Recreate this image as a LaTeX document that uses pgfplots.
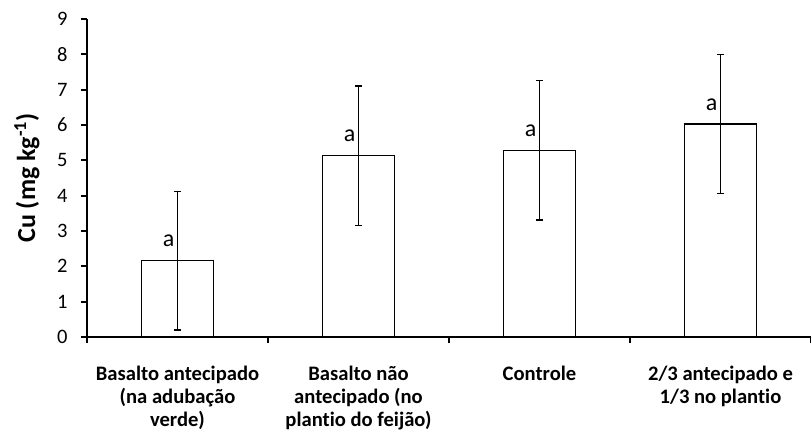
\documentclass[border=0pt]{standalone}
\usepackage{pgfplots}
\pgfplotsset{compat=1.18}
\usepackage{pgfplotstable}
\usepackage{fontspec}
\setmainfont{Carlito}[Ligatures=NoCommon]
\pgfplotstableread{
x y err
0 2.16 1.96
1 5.13 1.97
2 5.28 1.97
3 6.03 1.97
}\cudata
\begin{document}
\begin{tikzpicture}
\begin{axis}[
  name=ax,
  scale only axis, width=724pt, height=318pt,
  xmin=-0.5, xmax=3.5, ymin=0, ymax=9,
  ybar, bar width=0.4,
  axis x line=bottom, axis y line=left,
  axis line style={line width=2pt,-},
  tick align=outside,
  ytick={0,...,9},
  xtick={0,1,2,3},
  xticklabels={{Basalto antecipado\\(na adubação\\verde)},{Basalto não\\antecipado (no\\plantio do feijão)},{Controle},{2/3 antecipado e\\1/3 no plantio}},
  x tick label style={align=center, font=\fontsize{20.6}{23}\selectfont\bfseries, anchor=north, yshift=-20pt},
  y tick label style={font=\fontsize{20.5}{24}\selectfont, xshift=-10pt},
  /pgf/number format/assume math mode=true,
  major x tick style={draw=none},
  minor xtick={-0.5,0.5,1.5,2.5,3.5},
  minor x tick style={line width=2pt, black},
  major y tick style={line width=2pt, black},
  major tick length=6pt, minor tick length=6pt,
  ylabel={\bfseries Cu (mg kg\textsuperscript{-1})},
  every axis y label/.style={at={(axis description cs:-0.083,0.5)}, rotate=90, anchor=center, font=\fontsize{26}{30}\selectfont},
  nodes near coords={a},
  every node near coord/.append style={font=\fontsize{24}{28}\selectfont, anchor=south, inner sep=0pt, xshift=-9pt, yshift=13pt, black},
  clip=false,
]
\addplot[fill=white, draw=black, line width=1.3pt,
  error bars/.cd, y dir=both, y explicit,
  error bar style={line width=1.3pt, black},
  error mark options={rotate=90, mark size=3.5pt, line width=1.3pt, black}]
  table[x=x, y=y, y error=err] {\cudata};
\end{axis}
\pgfresetboundingbox
\path[use as bounding box] ([shift={(-87pt,-100pt)}]ax.south west) rectangle ([shift={(0pt,19pt)}]ax.north east);
\end{tikzpicture}
\end{document}
